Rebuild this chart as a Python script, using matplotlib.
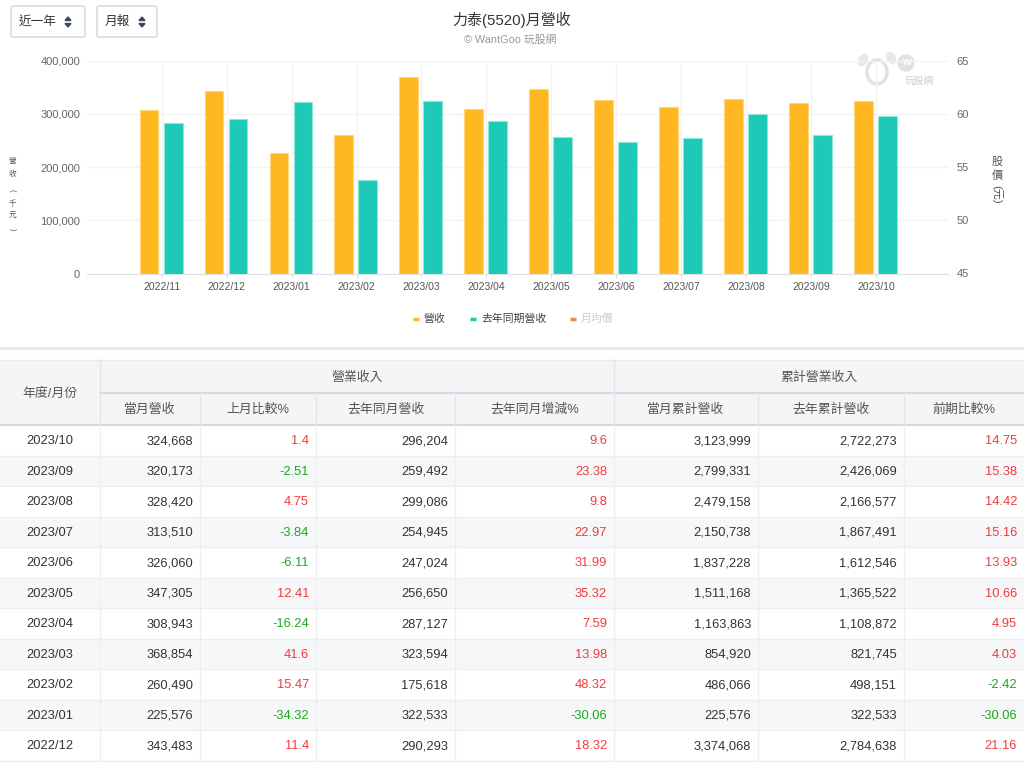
import numpy as np
import matplotlib
matplotlib.use('Agg')
from matplotlib import pyplot as plt
from matplotlib.patches import Rectangle, FancyBboxPatch, Circle, Ellipse, Polygon

plt.rcParams['font.family'] = ['Liberation Sans', 'Noto Sans CJK TC', 'DejaVu Sans']

# chart data (ascending months)
chart_months = ['2022/11', '2022/12', '2023/01', '2023/02', '2023/03', '2023/04',
                '2023/05', '2023/06', '2023/07', '2023/08', '2023/09', '2023/10']
chart_rev = [308000, 343483, 225576, 260490, 368854, 308943,
             347305, 326060, 313510, 328420, 320173, 324668]
chart_rev_ly = [282000, 290293, 322533, 175618, 323594, 287127,
                256650, 247024, 254945, 299086, 259492, 296204]

# table data (descending months)
months = ['2023/10', '2023/09', '2023/08', '2023/07', '2023/06', '2023/05',
          '2023/04', '2023/03', '2023/02', '2023/01', '2022/12']
rev = [324668, 320173, 328420, 313510, 326060, 347305, 308943, 368854, 260490, 225576, 343483]
mom = [1.4, -2.51, 4.75, -3.84, -6.11, 12.41, -16.24, 41.6, 15.47, -34.32, 11.4]
rev_ly = [296204, 259492, 299086, 254945, 247024, 256650, 287127, 323594, 175618, 322533, 290293]
yoy = [9.6, 23.38, 9.8, 22.97, 31.99, 35.32, 7.59, 13.98, 48.32, -30.06, 18.32]
cum = [3123999, 2799331, 2479158, 2150738, 1837228, 1511168, 1163863, 854920, 486066, 225576, 3374068]
cum_ly = [2722273, 2426069, 2166577, 1867491, 1612546, 1365522, 1108872, 821745, 498151, 322533, 2784638]
cum_pct = [14.75, 15.38, 14.42, 15.16, 13.93, 10.66, 4.95, 4.03, -2.42, -30.06, 21.16]

ORANGE = '#FFB822'
TEAL = '#1DC9B7'
RED = '#f03c3c'
GREEN = '#1ea61e'

fig = plt.figure(figsize=(10.24, 7.62), dpi=100)

# overlay in pixel coords
ov = fig.add_axes([0, 0, 1, 1])
ov.set_xlim(0, 1024)
ov.set_ylim(762, 0)
ov.axis('off')

# ---- chart ----
ax = fig.add_axes([87/1024, 1-273.5/762, 861/1024, 212.8/762])
x = np.arange(len(chart_months))
ax.bar(x-0.195, chart_rev, 0.29, color=ORANGE, edgecolor='#ffd77a', linewidth=0.8, zorder=3)
ax.bar(x+0.175, chart_rev_ly, 0.29, color=TEAL, edgecolor='#8ee6dc', linewidth=0.8, zorder=3)
ax.set_xlim(-1.151, 12.11)
ax.set_ylim(0, 400000)
ax.set_yticks([0, 100000, 200000, 300000, 400000])
ax.set_yticklabels([f'{v:,}' for v in [0, 100000, 200000, 300000, 400000]])
ax.set_xticks(x)
ax.set_xticklabels(chart_months)
ax.tick_params(axis='y', length=0, pad=5, labelsize=8, labelcolor='#666666')
ax.tick_params(axis='x', length=3, pad=3, labelsize=7.5, labelcolor='#555555', color='#e0e0e0')
ax.grid(True, color='#f3f3f3', linewidth=1)
ax.set_axisbelow(True)
for s in ['top', 'right', 'left']:
    ax.spines[s].set_visible(False)
ax.spines['bottom'].set_color('#e0e0e0')
ax.patch.set_alpha(0)

ax2 = ax.twinx()
ax2.set_ylim(45, 65)
ax2.set_yticks([45, 50, 55, 60, 65])
ax2.tick_params(axis='y', length=0, pad=6, labelsize=8, labelcolor='#666666')
for s in ax2.spines.values():
    s.set_visible(False)

# axis titles
for ch, yy, rot in [('營', 162, 0), ('收', 174, 0), ('(', 190, -90), ('千', 204, 0), ('元', 216, 0), (')', 229, -90)]:
    ov.text(12, yy, ch, fontsize=5.5, color='#555555', ha='center', va='center', rotation=rot)
for ch, yy, rot in [('股', 162, 0), ('價', 176, 0), ('(元)', 194, -90)]:
    ov.text(997, yy, ch, fontsize=8, color='#555555', ha='center', va='center', rotation=rot)

# title
ov.text(512, 20, '力泰(5520)月營收', fontsize=10.8, color='#333333', ha='center', va='center')
ov.text(510, 40, '© WantGoo 玩股網', fontsize=7.8, color='#999999', ha='center', va='center')

# watermark
ov.add_patch(Ellipse((863, 60), 8, 12, angle=30, color='#e8e8e8', zorder=1))
ov.add_patch(Ellipse((891, 58), 8, 12, angle=-30, color='#e8e8e8', zorder=1))
ov.add_patch(Ellipse((877, 72), 20, 24, facecolor='white', edgecolor='#e2e2e2', linewidth=2.5, zorder=1))
ov.add_patch(Circle((906, 63), 8, color='#e2e2e2', zorder=1))
ov.text(906, 62, 'w', fontsize=8, color='white', ha='center', va='center', fontweight='bold')
ov.text(919, 81, '玩股網', fontsize=7, color='#cccccc', ha='center', va='center')

# dropdowns
for x0, x1, label, ax_ in [(11, 85, '近一年', 68), (97, 157, '月報', 142)]:
    ov.add_patch(FancyBboxPatch((x0, 6), x1-x0, 31, boxstyle='round,pad=0,rounding_size=2',
                                facecolor='white', edgecolor='#d2d6db', linewidth=1))
    ov.text(x0+8, 22, label, fontsize=9.1, color='#333333', ha='left', va='center')
    ov.add_patch(Polygon([[ax_-3, 20.5], [ax_+3, 20.5], [ax_, 17]], closed=True, color='#3d4a5c'))
    ov.add_patch(Polygon([[ax_-3, 23.5], [ax_+3, 23.5], [ax_, 27]], closed=True, color='#3d4a5c'))

# legend
leg = [(413, ORANGE, '營收', '#444444'), (470, TEAL, '去年同期營收', '#444444'),
       (570, '#ff7f50', '月均價', '#cccccc')]
for lx, c, t, tc in leg:
    ov.plot([lx, lx+6], [318.5, 318.5], color=c, linewidth=2.5, solid_capstyle='butt')
    ov.text(lx+11, 319, t, fontsize=7.8, color=tc, ha='left', va='center')

# divider
ov.plot([0, 1024], [348, 348], color='#e6e6e6', linewidth=1.8)

# ---- table ----
edges = [0, 100, 200, 316, 455, 614, 758, 904, 1024]
h_top, h_mid, h_bot = 360, 393, 425
row_h = 30.5

ov.add_patch(Rectangle((0, h_top), 1024, h_bot-h_top, facecolor='#f4f5f7', edgecolor='none'))
ov.plot([0, 1024], [h_top, h_top], color='#e6e8eb', linewidth=1)
ov.plot([100, 1024], [h_mid, h_mid], color='#d6dadf', linewidth=1.5)
for e in [100, 614]:
    ov.plot([e, e], [h_top, h_bot], color='#e3e5e8', linewidth=1)
for e in [200, 316, 455, 758, 904]:
    ov.plot([e, e], [h_mid, h_bot], color='#e3e5e8', linewidth=1)

hdr_kw = dict(fontsize=9.3, color='#555555', ha='center', va='center')
ov.text(50, 393.5, '年度/月份', **hdr_kw)
ov.text(357, 377.5, '營業收入', **hdr_kw)
ov.text(819, 377.5, '累計營業收入', **hdr_kw)
sub_heads = ['當月營收', '上月比較%', '去年同月營收', '去年同月增減%', '當月累計營收', '去年累計營收', '前期比較%']
for k, t in enumerate(sub_heads):
    ov.text((edges[k+1]+edges[k+2])/2, 409.5, t, **hdr_kw)

for i in range(len(months)):
    y0 = h_bot + row_h*i
    if i % 2 == 1:
        ov.add_patch(Rectangle((0, y0), 1024, row_h, facecolor='#f6f7f9', edgecolor='none'))
    ov.plot([0, 1024], [y0+row_h, y0+row_h], color='#eceef1', linewidth=1)
    yc = y0 + row_h/2 + 1
    ov.text(50, yc, months[i], fontsize=9.3, color='#333333', ha='center', va='center')
    cells = [(f'{rev[i]:,}', None), (f'{mom[i]:g}', mom[i]), (f'{rev_ly[i]:,}', None),
             (f'{yoy[i]:g}', yoy[i]), (f'{cum[i]:,}', None), (f'{cum_ly[i]:,}', None),
             (f'{cum_pct[i]:g}', cum_pct[i])]
    for k, (t, v) in enumerate(cells):
        if v is None:
            c = '#333333'
        else:
            c = RED if v > 0 else GREEN
        ov.text(edges[k+2]-7, yc, t, fontsize=9.3, color=c, ha='right', va='center')
ov.plot([0, 1024], [h_bot, h_bot], color='#d6dadf', linewidth=1.5)
for e in edges[1:-1]:
    ov.plot([e, e], [h_bot, 762], color='#eceef1', linewidth=1)

plt.savefig('out.png', dpi=100)
